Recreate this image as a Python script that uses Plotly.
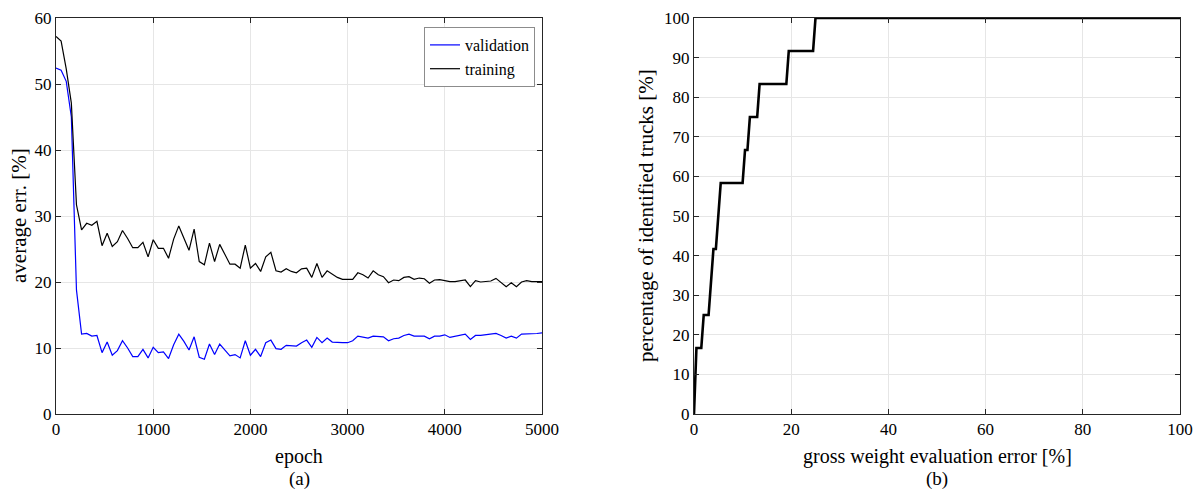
import plotly.graph_objects as go

# ---------------- data: (a) error vs epoch ----------------
n_points = 96
epochs = [round(i * 5000 / (n_points - 1), 1) for i in range(n_points)]

training = [57.2, 56.5, 52.3, 47.1, 31.7, 27.9, 28.9, 28.6, 29.2, 25.5,
            27.4, 25.4, 26.1, 27.8, 26.6, 25.2, 25.2, 26.0, 23.8, 26.4,
            25.1, 25.1, 23.6, 26.5, 28.5, 26.6, 24.8, 28.0, 23.1, 22.6,
            25.9, 23.1, 25.7, 24.2, 22.7, 22.7, 22.1, 25.6, 22.1, 22.8,
            21.6, 23.8, 24.5, 21.7, 21.5, 22.0, 21.6, 21.4, 22.0, 22.1,
            20.7, 22.8, 20.7, 21.7, 21.2, 20.7, 20.4, 20.4, 20.4, 21.4,
            21.1, 20.6, 21.7, 21.1, 20.8, 19.9, 20.3, 20.2, 20.7, 20.8,
            20.4, 20.6, 20.5, 19.8, 20.3, 20.35, 20.2, 20.05, 20.05, 20.15,
            20.3, 19.3, 20.2, 20.0, 20.05, 20.15, 20.55, 19.9, 19.3, 19.9,
            19.3, 20.0, 20.2, 20.05, 20.0, 20.05]

validation = [52.4, 52.1, 50.4, 45.0, 18.8, 12.1, 12.2, 11.8, 11.9, 9.3,
              10.9, 8.9, 9.6, 11.1, 10.0, 8.7, 8.7, 9.8, 8.5, 10.1,
              9.3, 9.4, 8.4, 10.5, 12.1, 11.0, 9.7, 11.7, 8.6, 8.3,
              10.6, 9.0, 10.6, 9.7, 8.8, 9.0, 8.5, 11.1, 8.9, 9.8,
              8.7, 10.8, 11.2, 9.9, 9.8, 10.4, 10.4, 10.3, 10.8, 11.2,
              10.1, 11.6, 10.8, 11.5, 10.9, 10.8, 10.8, 10.8, 11.1, 11.8,
              11.6, 11.5, 11.8, 11.8, 11.7, 11.1, 11.4, 11.5, 11.9, 12.1,
              11.8, 11.8, 11.8, 11.4, 11.8, 11.8, 12.0, 11.6, 11.8, 11.9,
              12.1, 11.3, 11.9, 11.9, 12.0, 12.1, 12.2, 11.9, 11.5, 11.8,
              11.5, 12.1, 12.1, 12.1, 12.2, 12.3]

# ---------------- data: (b) cumulative identification ----------------
gross_error = [0, 0.5, 1.5, 2.0, 3.0, 4.0, 4.5, 5.5, 10.0, 10.5, 11.0, 11.5,
               13.0, 13.5, 19.0, 19.5, 24.5, 25.0, 100]
identified = [0, 16.67, 16.67, 25, 25, 41.67, 41.67, 58.33, 58.33, 66.67,
              66.67, 75, 75, 83.33, 83.33, 91.67, 91.67, 100, 100]

a_xticks = [0, 1000, 2000, 3000, 4000, 5000]
a_yticks = [0, 10, 20, 30, 40, 50, 60]
b_xticks = [0, 20, 40, 60, 80, 100]
b_yticks = [0, 10, 20, 30, 40, 50, 60, 70, 80, 90, 100]

W, H = 1201, 494
FONT = "Liberation Serif"
AX = "#262626"
GRID = "#e6e6e6"

fig = go.Figure()
fig.add_trace(go.Scatter(x=epochs, y=validation, mode="lines", name="validation",
                         line=dict(color="#0000ff", width=1.2), xaxis="x", yaxis="y"))
fig.add_trace(go.Scatter(x=epochs, y=training, mode="lines", name="training",
                         line=dict(color="#000000", width=1.2), xaxis="x", yaxis="y"))
fig.add_trace(go.Scatter(x=gross_error, y=identified, mode="lines", showlegend=False,
                         line=dict(color="#000000", width=2.6), xaxis="x2", yaxis="y2",
                         cliponaxis=False))

def axis(domain, rng, ticks, anchor):
    return dict(domain=domain, range=rng, tickvals=ticks, ticks="inside", ticklen=5,
                tickcolor=AX, tickwidth=1, showline=True, linecolor=AX, linewidth=1,
                mirror="ticks", showgrid=True, gridcolor=GRID, gridwidth=1,
                zeroline=False, anchor=anchor, automargin=False, fixedrange=True,
                tickfont=dict(family=FONT, size=17, color="#000"))

xa = [56 / W, 542 / W]
xb = [694 / W, 1180 / W]
yd = [(H - 414) / H, (H - 18) / H]

def label(text, x, y, angle=0, size=18):
    return dict(text=text, x=x / W, y=1 - y / H, xref="paper", yref="paper",
                showarrow=False, textangle=angle, xanchor="center", yanchor="middle",
                font=dict(family=FONT, size=size, color="#000"))

fig.update_layout(
    width=W, height=H, autosize=False,
    margin=dict(l=0, r=0, t=0, b=0, pad=0),
    paper_bgcolor="white", plot_bgcolor="white",
    font=dict(family=FONT, color="#000"),
    xaxis=axis(xa, [0, 5000], a_xticks, "y"),
    yaxis=axis(yd, [0, 60], a_yticks, "x"),
    xaxis2=axis(xb, [0, 100], b_xticks, "y2"),
    yaxis2=axis(yd, [0, 100], b_yticks, "x2"),
    legend=dict(x=535 / W, y=1 - 27 / H, xanchor="right", yanchor="top",
                bgcolor="white", bordercolor="#8c8c8c", borderwidth=1,
                font=dict(family=FONT, size=16, color="#000"),
                tracegroupgap=0, itemwidth=30),
    annotations=[
        label("epoch", 299, 456, size=20),
        label("(a)", 299, 479, size=19),
        label("gross weight evaluation error [%]", 937, 456, size=20),
        label("(b)", 937, 479, size=19),
        label("average err. [%]", 19, 216, -90, size=21),
        label("percentage of identified trucks [%]", 646, 216, -90, size=21),
    ],
)

fig.write_html("out.html", config={"responsive": False})
